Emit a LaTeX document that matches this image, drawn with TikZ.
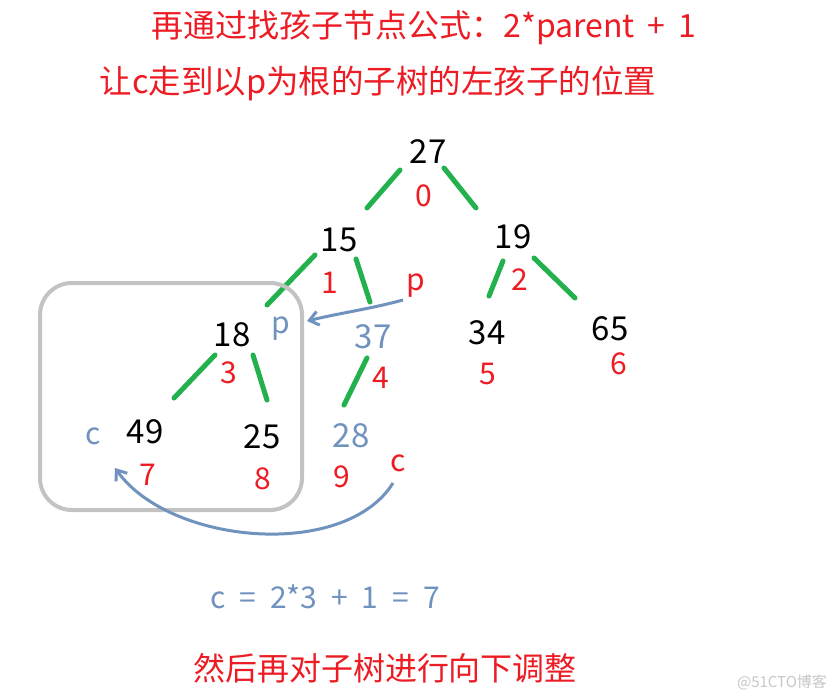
\documentclass[tikz,border=0pt]{standalone}
\usepackage{fontspec}
\setmainfont{Noto Sans CJK SC}
\usetikzlibrary{arrows.meta}
\definecolor{tred}{RGB}{237,28,36}
\definecolor{tgreen}{RGB}{34,177,76}
\definecolor{tblue}{RGB}{112,146,190}
\definecolor{tgray}{RGB}{195,195,195}
\begin{document}
\begin{tikzpicture}[x=1pt,y=-1pt,
  num/.style={inner sep=0pt, font=\fontsize{33}{36}\selectfont, text=black},
  bnum/.style={num, text=tblue},
  idx/.style={inner sep=0pt, font=\fontsize{30}{34}\selectfont, text=tred},
  title/.style={inner sep=0pt, font=\fontsize{32.5}{36}\selectfont, text=tred},
  gedge/.style={tgreen, line width=5pt, line cap=round},
  barrow/.style={tblue, line width=3pt, -{Straight Barb[length=9pt,width=14pt]}}]
\useasboundingbox (0,0) rectangle (836,699);
\fill[white] (0,0) rectangle (836,699);
% titles
\node[title, font=\fontsize{32}{36}\selectfont] (t1) at (424,28) {\spaceskip=13pt 再通过找孩子节点公式：2*parent + 1};
\node[title] (t2) at (378,83) {让c走到以p为根的子树的左孩子的位置};
% tree values
\node[num] (n27) at (428,152) {27};
\node[num] (n15) at (339,240) {15};
\node[num] (n19) at (513,237) {19};
\node[num] (n18) at (232,335) {18};
\node[bnum] (n37) at (373,337) {37};
\node[num] (n34) at (487,333) {34};
\node[num] (n65) at (610,329) {65};
\node[num] (n49) at (145,432) {49};
\node[num] (n25) at (262,437) {25};
\node[bnum] (n28) at (351,436) {28};
% indices
\node[idx] (i0) at (424,196) {0};
\node[idx] (i1) at (330,283) {1};
\node[idx] (i2) at (520,280) {2};
\node[idx] (i3) at (229,373) {3};
\node[idx] (i4) at (381,378) {4};
\node[idx] (i5) at (488,374) {5};
\node[idx] (i6) at (619,364) {6};
\node[idx] (i7) at (148,475) {7};
\node[idx] (i8) at (263,479) {8};
\node[idx] (i9) at (342,477) {9};
% p / c labels
\node[idx] (pr) at (416,286) {p};
\node[bnum, font=\fontsize{30}{34}\selectfont] (pb) at (281,329) {p};
\node[idx] (cr) at (398,463) {c};
\node[bnum, font=\fontsize{30}{34}\selectfont] (cb) at (93,436) {c};
% green edges
\coordinate (e1a) at (400,170); \coordinate (e1b) at (367,208);
\coordinate (e2a) at (444,168); \coordinate (e2b) at (476,208);
\coordinate (e3a) at (315,255); \coordinate (e3b) at (267,305);
\coordinate (e4a) at (356,259); \coordinate (e4b) at (370,302);
\coordinate (e5a) at (503,261); \coordinate (e5b) at (489,296);
\coordinate (e6a) at (534,258); \coordinate (e6b) at (575,298);
\coordinate (e7a) at (215,355); \coordinate (e7b) at (174,398);
\coordinate (e8a) at (253,355); \coordinate (e8b) at (267,400);
\coordinate (e9a) at (367,358); \coordinate (e9b) at (344,405);
\foreach \a/\b in {e1a/e1b,e2a/e2b,e3a/e3b,e4a/e4b,e5a/e5b,e6a/e6b,e7a/e7b,e8a/e8b,e9a/e9b}
  \draw[gedge] (\a) -- (\b);
% subtree box
\draw[tgray, line width=4pt, rounded corners=32pt] (40,283) rectangle (302,510);
% arrows
\coordinate (pa) at (403,300);
\coordinate (pe) at (307,321);
\draw[barrow] (pa) .. controls (370,309) and (340,313) .. (pe);
\coordinate (ca) at (393,483);
\coordinate (ce) at (115,468);
\draw[barrow] (ca) .. controls (345,560) and (170,545) .. (ce);
% formula and conclusion
\node[inner sep=0pt, font=\fontsize{30}{34}\selectfont, text=tblue] (f) at (325,597) {\spaceskip=14pt c = 2*3 + 1 = 7};
\node[inner sep=0pt, font=\fontsize{32}{36}\selectfont, text=tred] (t3) at (385,668) {然后再对子树进行向下调整};
\node[inner sep=0pt, font=\fontsize{15}{18}\selectfont, text=black!22] (wm) at (782,682) {@51CTO博客};
\end{tikzpicture}
\end{document}
